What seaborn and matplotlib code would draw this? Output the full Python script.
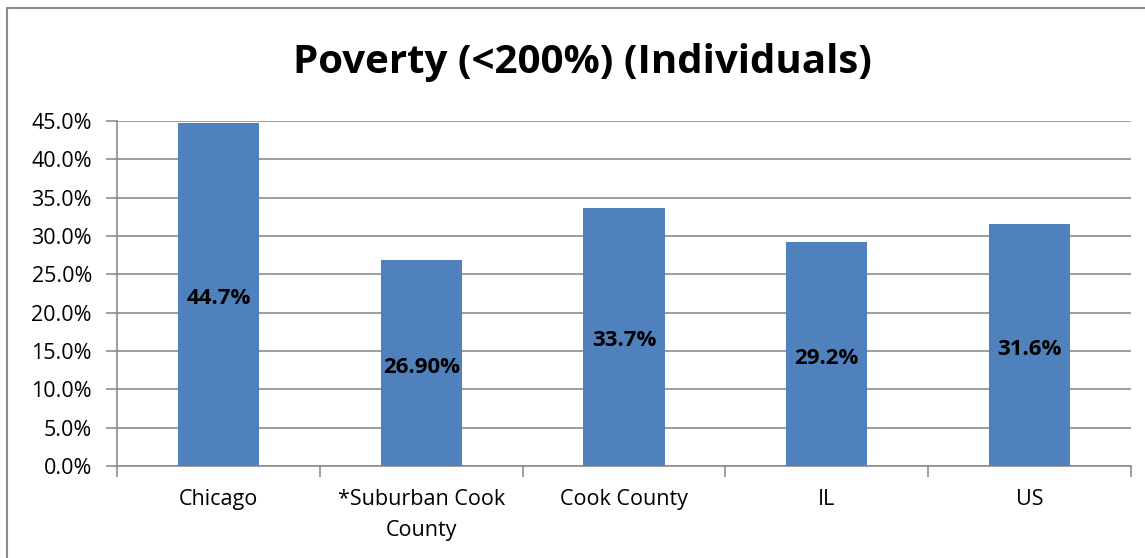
import matplotlib
matplotlib.use("Agg")
import matplotlib.pyplot as plt
import seaborn as sns
import pandas as pd
from matplotlib.ticker import FuncFormatter, FixedLocator
from matplotlib.patches import Rectangle

categories = ["Chicago", "*Suburban Cook\nCounty", "Cook County", "IL", "US"]
values = [44.7, 26.9, 33.7, 29.2, 31.6]
bar_labels = ["44.7%", "26.90%", "33.7%", "29.2%", "31.6%"]
yticks = [0, 5, 10, 15, 20, 25, 30, 35, 40, 45]

sns.set_style("white")
plt.rcParams['font.family'] = ['Open Sans', 'DejaVu Sans']

W, H = 1145, 558
fig = plt.figure(figsize=(W / 100, H / 100), dpi=100)
ax = fig.add_axes([117 / W, 1 - 466 / H, (1131 - 117) / W, (466 - 121) / H])

df = pd.DataFrame({"cat": categories, "val": values})
sns.barplot(data=df, x="cat", y="val", color="#4F81BD", width=0.4, saturation=1,
            linewidth=0, ax=ax, zorder=3)

ax.set_ylim(0, 45)
ax.set_xlim(-0.5, 4.5)
ax.yaxis.set_major_locator(FixedLocator(yticks))
ax.yaxis.set_major_formatter(FuncFormatter(lambda v, p: f"{v:.1f}%"))
ax.grid(axis="y", color="#8C8C8C", linewidth=1.2, zorder=0)
ax.set_axisbelow(True)
ax.set_xlabel("")
ax.set_ylabel("")

for s in ["top", "right"]:
    ax.spines[s].set_visible(False)
for s in ["left", "bottom"]:
    ax.spines[s].set_color("#8C8C8C")
    ax.spines[s].set_linewidth(1.2)

ax.tick_params(axis="y", which="major", left=True, length=8, width=1.2, color="#8C8C8C",
               labelsize=15.5, pad=10, labelcolor="black")
ax.set_xticks(range(len(categories)))
ax.set_xticklabels(categories, linespacing=1.6)
ax.tick_params(axis="x", which="major", bottom=False, labelsize=15.5, pad=13, labelcolor="black")
ax.set_xticks([i - 0.5 for i in range(len(categories) + 1)], minor=True)
ax.tick_params(axis="x", which="minor", bottom=True, length=8, width=1.2, color="#8C8C8C")

for i, (v, lab) in enumerate(zip(values, bar_labels)):
    ax.annotate(lab, xy=(i, v / 2), xytext=(0, -3), textcoords="offset points",
                ha="center", va="center", fontsize=16, fontweight="bold",
                color="black", zorder=4)

fig.text(582 / W, 1 - 62 / H, "Poverty (<200%) (Individuals)", ha="center", va="center",
         fontsize=29, fontweight="bold", color="black")

fig.patches.append(Rectangle((7 / W, -0.1), 1.2, 1 - 8 / H + 0.1, transform=fig.transFigure,
                             fill=False, edgecolor="#8C8C8C", linewidth=1.5))

fig.savefig("out.png", dpi=100, facecolor="white")
